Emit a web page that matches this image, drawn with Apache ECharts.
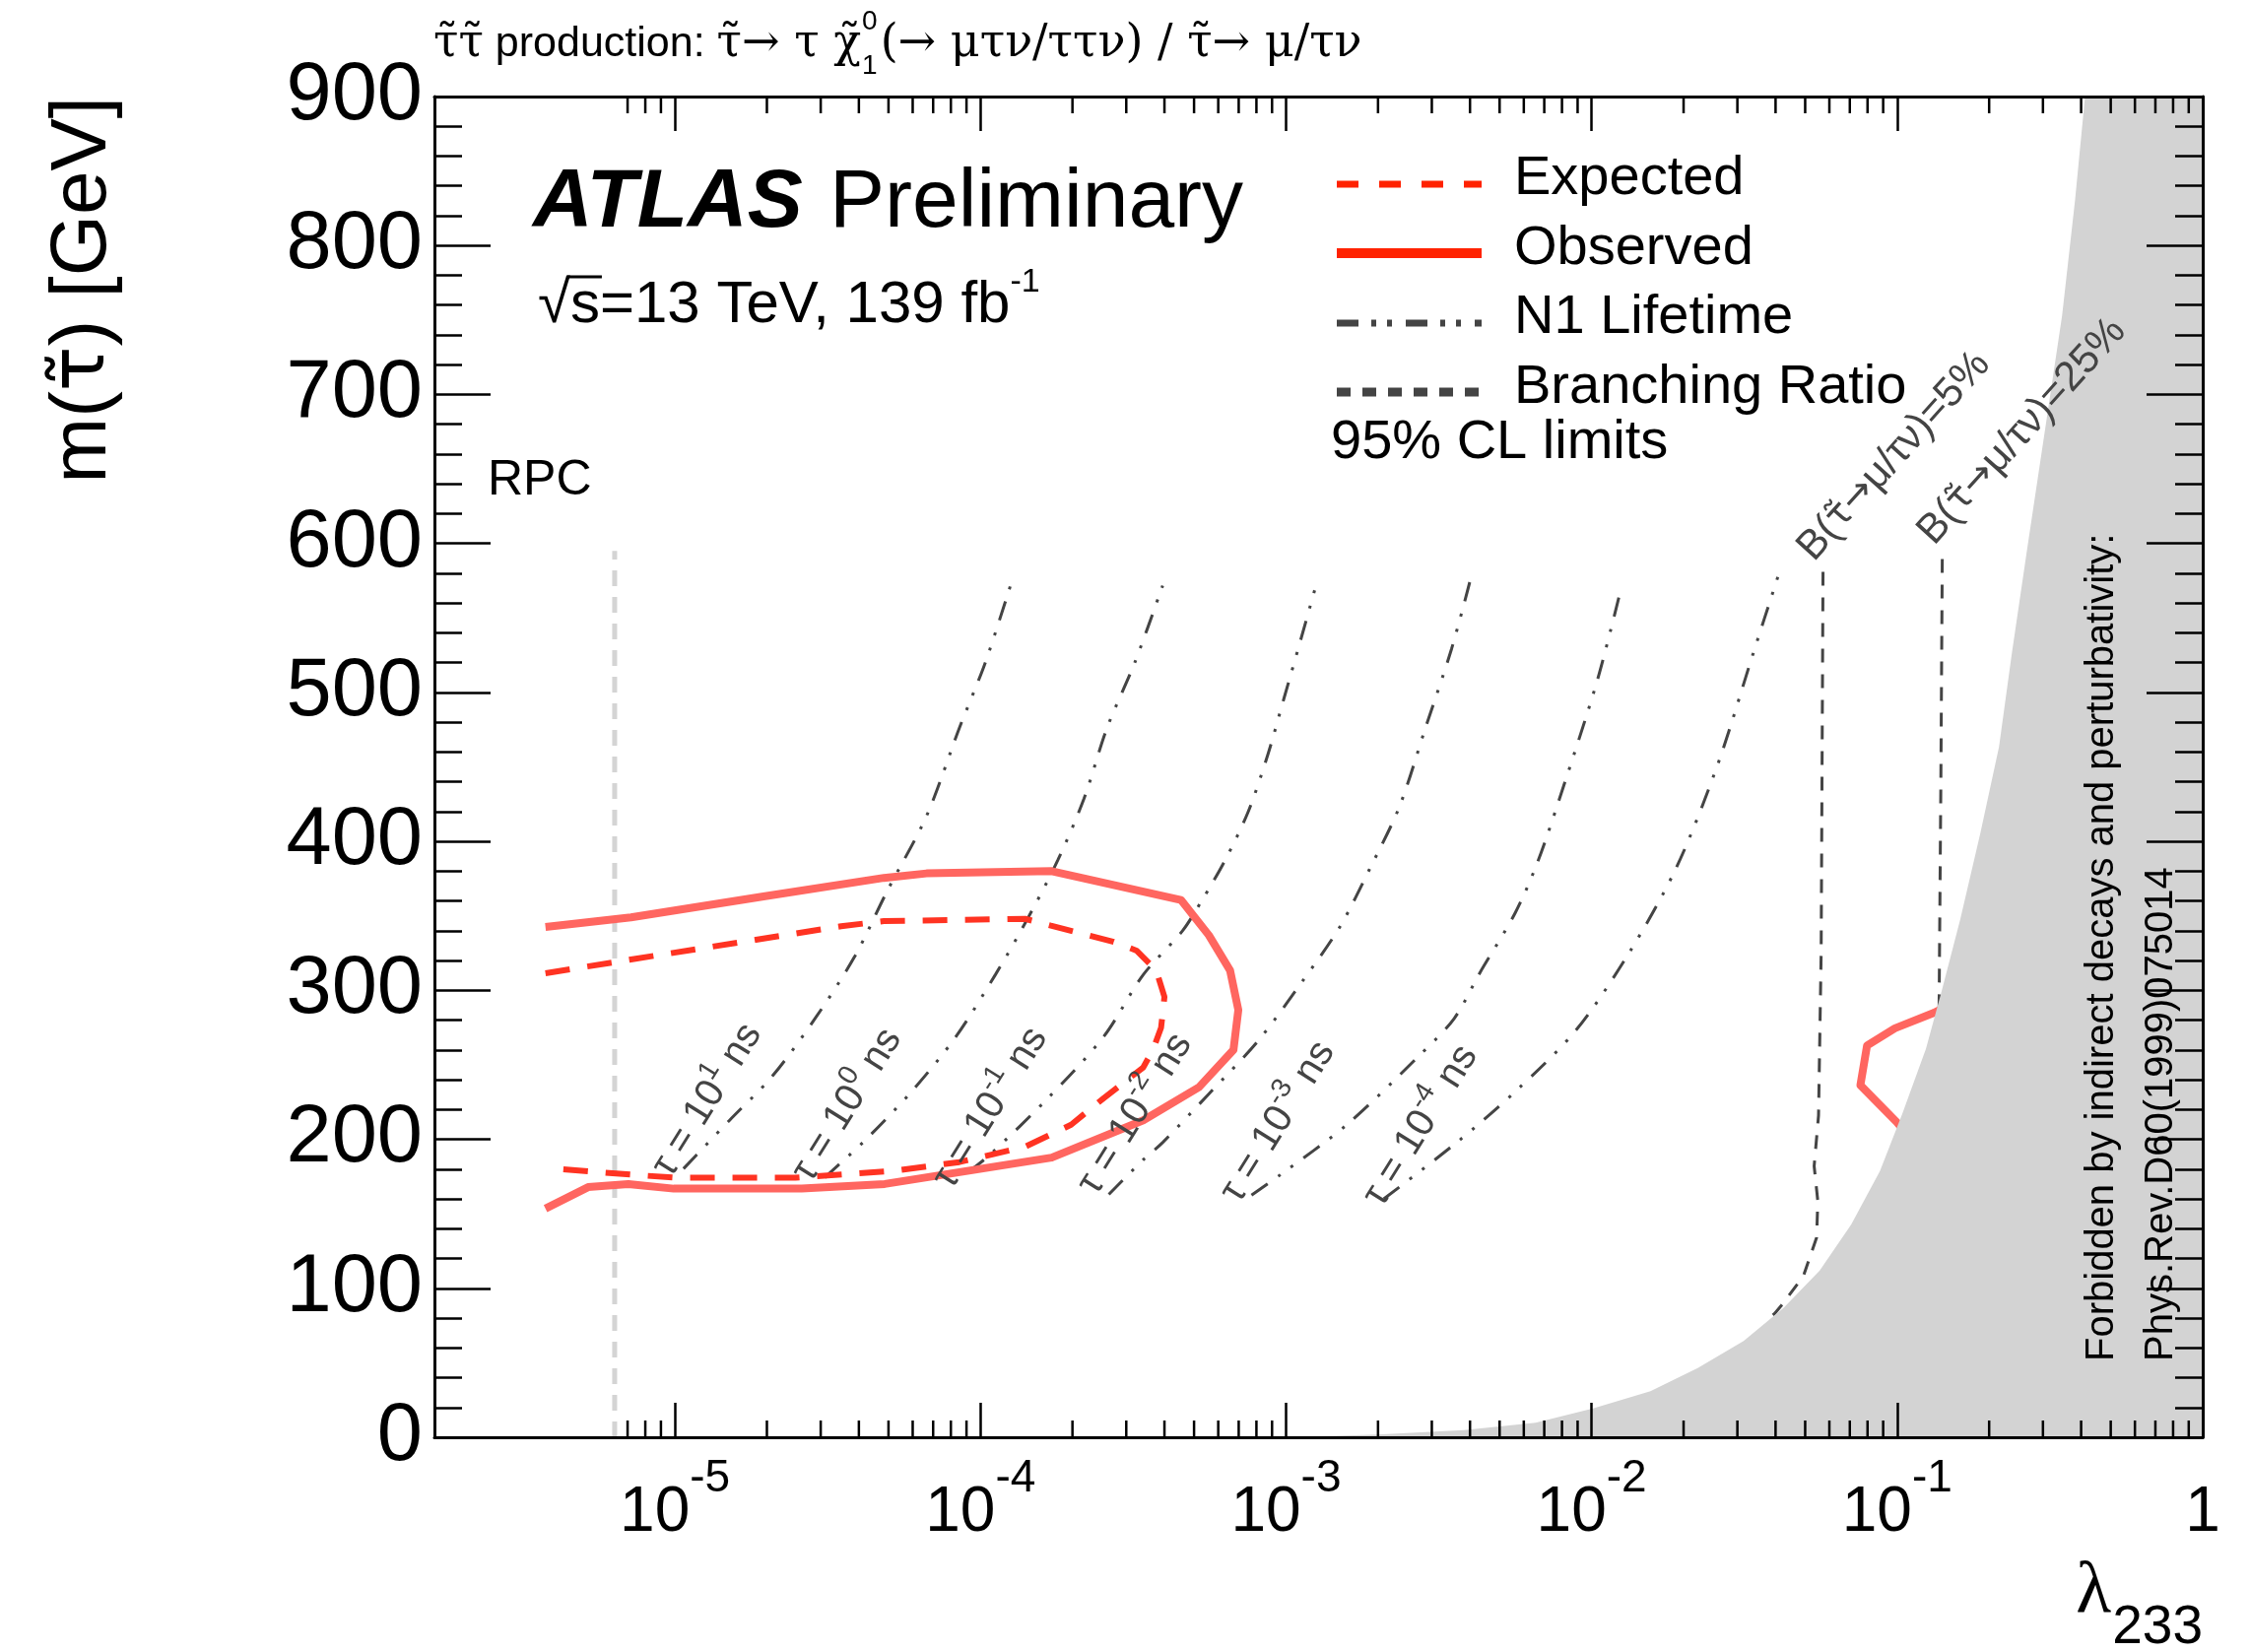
<!DOCTYPE html>
<html>
<head>
<meta charset="utf-8">
<script src="https://cdn.jsdelivr.net/npm/echarts@6/dist/echarts.min.js"></script>
<style>html,body{margin:0;padding:0;background:#fff}#chart{width:2284px;height:1677px}</style>
</head>
<body>
<div id="chart"></div>
<script>
// ---------------- data ----------------
const xMin = 1.633e-6, xMax = 1;
const yMin = 0, yMax = 900, yStep = 100;
const xMajorTicks = [1e-5, 1e-4, 1e-3, 1e-2, 1e-1, 1];
const xTickLabels = [['10', '-5'], ['10', '-4'], ['10', '-3'], ['10', '-2'], ['10', '-1'], ['1', '']];
const xMinorTicks = [7e-6, 8e-6, 9e-6,
  2e-5, 3e-5, 4e-5, 5e-5, 6e-5, 7e-5, 8e-5, 9e-5,
  2e-4, 3e-4, 4e-4, 5e-4, 6e-4, 7e-4, 8e-4, 9e-4,
  2e-3, 3e-3, 4e-3, 5e-3, 6e-3, 7e-3, 8e-3, 9e-3,
  2e-2, 3e-2, 4e-2, 5e-2, 6e-2, 7e-2, 8e-2, 9e-2,
  0.2, 0.3, 0.4, 0.5, 0.6, 0.7, 0.8, 0.9];

// Observed 95% CL contour
const obsLambda = [3.77e-6, 7.18e-6, 1.95e-5, 4.83e-5, 6.66e-5, 1.71e-4, 4.53e-4, 5.59e-4, 6.56e-4, 6.98e-4, 6.73e-4, 5.19e-4, 3.41e-4, 1.71e-4, 4.86e-5, 2.60e-5, 9.91e-6, 7.04e-6, 5.2e-6, 3.77e-6];
const obsMass   = [342.5, 349, 363, 375.5, 378.5, 380, 360.7, 337, 313.4, 286.8, 260.1, 235, 212.8, 187.7, 170, 166.9, 166.9, 170, 167.9, 153.5];
// Observed, small island at the edge of the forbidden region (ends hidden under it)
const obs2Lambda = [0.138, 0.1322, 0.0983, 0.0797, 0.0758, 0.0996, 0.106];
const obs2Mass   = [287, 285, 274.5, 262.9, 236.3, 211.6, 205];
// Expected 95% CL contour
const expLambda = [3.77e-6, 7.18e-6, 1.84e-5, 3.5e-5, 4.83e-5, 1.40e-4, 1.70e-4, 2.73e-4, 3.24e-4, 3.76e-4, 4.0e-4, 3.90e-4, 3.67e-4, 3.41e-4, 2.53e-4, 1.98e-4, 1.40e-4, 8.53e-5, 5.2e-5, 2.48e-5, 9.91e-6, 7.74e-6, 4.14e-6];
const expMass   = [311.5, 320.7, 334, 343, 346.5, 348, 343.5, 332.6, 326.7, 313.4, 295.6, 274.9, 260.1, 248.3, 227.6, 209.8, 195, 184.7, 178.8, 174.3, 174.3, 175.8, 180.1];

// N1 lifetime lines
const lifeP1Lambda = [1.067e-5, 1.51e-5, 2.082e-5, 2.871e-5, 3.866e-5, 4.95e-5, 6.656e-5, 8.53e-5, 1.039e-4, 1.282e-4];
const lifeP1Mass   = [180.3, 212.8, 242.3, 280.9, 322.3, 366.6, 416.9, 476.1, 520.5, 578.1];
const life0Lambda  = [3.093e-5, 4.267e-5, 6.034e-5, 8.318e-5, 1.118e-4, 1.433e-4, 1.791e-4, 2.183e-4, 2.595e-4, 3.199e-4, 3.947e-4];
const life0Mass    = [174.4, 200.9, 233.5, 269, 310.4, 348.9, 387.4, 428.8, 476.1, 520, 571.7];
const lifeM1Lambda = [9.12e-5, 1.066e-4, 1.662e-4, 2.532e-4, 3.407e-4, 4.585e-4, 5.317e-4, 6.32e-4, 7.52e-4, 8.72e-4, 9.87e-4, 1.117e-3, 1.265e-3];
const lifeM1Mass   = [178, 189.1, 227.6, 269, 310.4, 340, 360.7, 387.4, 419.9, 458.3, 496.8, 535.3, 574.8];
const lifeM2Lambda = [2.63e-4, 3.407e-4, 3.952e-4, 5.59e-4, 8.1e-4, 1.117e-3, 1.503e-3, 1.877e-3, 2.346e-3, 2.859e-3, 3.483e-3, 4.04e-3];
const lifeM2Mass   = [163, 186.2, 198, 230.5, 266.1, 304.5, 342.9, 381.4, 422.9, 476.1, 529.4, 578.1];
const lifeM3Lambda = [7.71e-4, 9.55e-4, 1.585e-3, 2.723e-3, 3.548e-3, 4.315e-3, 5.623e-3, 6.683e-3, 8.185e-3, 1.047e-2, 1.253e-2];
const lifeM3Mass   = [162.5, 176, 210, 256, 281, 312, 352, 387, 440, 509, 571];
const lifeM4Lambda = [2.089e-3, 3.659e-3, 5.706e-3, 8.903e-3, 1.328e-2, 1.897e-2, 2.588e-2, 3.382e-2, 4.094e-2];
const lifeM4Mass   = [160, 198.7, 233.2, 273.4, 325.3, 382.7, 451.7, 526.4, 579.2];
const lifeLabelExp    = ['1', '0', '-1', '-2', '-3', '-4'];
const lifeLabelLambda = [1.026e-5, 2.944e-5, 8.51e-5, 2.53e-4, 7.43e-4, 2.178e-3];
const lifeLabelMass   = [170.3, 167, 162.4, 158.4, 153.1, 150.4];

// Branching-ratio lines
const br5Lambda  = [0.0572, 0.0564, 0.0553, 0.0535, 0.055, 0.0545, 0.0493, 0.0418, 0.0397, 0.037];
const br5Mass    = [581, 325, 216, 182, 158.5, 134, 108, 88.5, 83, 78];
const br25Lambda = [0.1405, 0.139, 0.1372, 0.1368];
const br25Mass   = [589.6, 440, 292, 280];
const brLabelValue  = ['5%', '25%'];
const brLabelLambda = [0.0562, 0.1392];
const brLabelMass   = [583, 594];

// RPC reference line
const rpcLambda = [6.35e-6, 6.35e-6];
const rpcMass   = [0, 595];

// Forbidden region boundary
const forbLambda = [1.0e-3, 2.0e-3, 3.82e-3, 6.56e-3, 1.011e-2, 1.558e-2, 2.225e-2, 3.146e-2, 4.256e-2, 5.58e-2, 7.075e-2, 8.785e-2, 0.1040, 0.1242, 0.1398, 0.1609, 0.1872, 0.2155, 0.2374, 0.2674, 0.3046, 0.3467, 0.3822, 0.412, 1];
const forbMass   = [0, 1.9, 4.8, 9.7, 19.3, 30.9, 46.4, 64.7, 86.9, 112, 142.9, 178.7, 217.3, 260.7, 299.4, 347.7, 405.6, 463.5, 526.3, 598.7, 676, 753.2, 830.5, 900, 900];

// ---------------- helpers ----------------
const FONT = 'Liberation Sans';
const GSERIF = 'DejaVu Serif';
const GSANS = 'DejaVu Sans';
const zip = (a, b) => a.map((v, i) => [v, b[i]]);
const cv = document.createElement('canvas').getContext('2d');
const measure = (t, f) => { cv.font = f; return cv.measureText(t).width; };

const LIFE_COLOR = '#444444';
const lifeDash = [20, 13, 3, 13, 3, 13];
function lifeSeries(lam, mass) {
  return { type: 'line', data: zip(lam, mass), showSymbol: false, symbol: 'none', smooth: 0.3, z: 3,
    lineStyle: { color: LIFE_COLOR, width: 3, type: lifeDash }, silent: true };
}

// title pieces
const titleY = 45, tSerif = 46, tSans = 43;
const fSerif = tSerif + 'px "' + GSERIF + '"', fSans = tSans + 'px "' + FONT + '"';
const tA1 = 'τ̃τ̃', tA2 = '\u00a0production:\u00a0', tA3 = 'τ̃→ τ χ̃';
const wA = measure(tA1, fSerif) + measure(tA2, fSans) + measure(tA3, fSerif);
const wSup = measure('0', '28px "' + FONT + '"');
const w233 = measure('233', '55px "' + FONT + '"');
const wRoot = measure('√', '60px "' + FONT + '"');
const wS = measure('s', '60px "' + FONT + '"');

const chart = echarts.init(document.getElementById('chart'), null, { renderer: 'canvas' });

const axisLineStyle = { color: '#000', width: 3 };
const tickStyle = { color: '#000', width: 2.5 };

const option = {
  animation: false,
  backgroundColor: '#ffffff',
  grid: { left: 441, right: 48, top: 98, bottom: 218, containLabel: false },
  xAxis: [
    { type: 'log', logBase: 10, min: xMin, max: xMax, position: 'bottom', z: 10,
      axisLine: { show: true, onZero: false, lineStyle: axisLineStyle },
      axisTick: { show: true, inside: true, length: 35, lineStyle: tickStyle },
      splitLine: { show: false },
      axisLabel: { show: true, margin: 19, showMinLabel: false,
        formatter: function (v) {
          const e = Math.round(Math.log10(v));
          let idx = -1;
          xMajorTicks.forEach((t, i) => { if (Math.round(Math.log10(t)) === e) idx = i; });
          if (idx < 0) return '';
          const lab = xTickLabels[idx];
          return lab[1] ? '{b|' + lab[0] + '}{e|' + lab[1] + '}' : '{b|' + lab[0] + '}';
        },
        rich: {
          b: { fontSize: 64, fontFamily: FONT, color: '#000', lineHeight: 90, verticalAlign: 'bottom' },
          e: { fontSize: 46, fontFamily: FONT, color: '#000', lineHeight: 44, verticalAlign: 'top' }
        } } },
    { type: 'log', logBase: 10, min: xMin, max: xMax, position: 'top', z: 10,
      axisLine: { show: true, onZero: false, lineStyle: axisLineStyle },
      axisTick: { show: true, inside: true, length: 35, lineStyle: tickStyle },
      splitLine: { show: false }, axisLabel: { show: false } }
  ],
  yAxis: [
    { type: 'value', min: yMin, max: yMax, interval: yStep, position: 'left', z: 10,
      axisLine: { show: true, onZero: false, lineStyle: axisLineStyle },
      axisTick: { show: true, inside: true, length: 57, lineStyle: tickStyle },
      minorTick: { show: true, splitNumber: 5, length: 28, lineStyle: tickStyle },
      splitLine: { show: false },
      axisLabel: { show: true, margin: 12, fontSize: 83, fontFamily: FONT, color: '#000' } },
    { type: 'value', min: yMin, max: yMax, interval: yStep, position: 'right', z: 10,
      axisLine: { show: true, onZero: false, lineStyle: axisLineStyle },
      axisTick: { show: true, inside: true, length: 57, lineStyle: tickStyle },
      minorTick: { show: true, splitNumber: 5, length: 28, lineStyle: tickStyle },
      splitLine: { show: false }, axisLabel: { show: false } }
  ],
  series: [
    // RPC line
    { type: 'line', name: 'RPC', data: zip(rpcLambda, rpcMass), showSymbol: false, symbol: 'none', z: 2, silent: true,
      lineStyle: { color: '#d4d4d4', width: 5, type: [16, 11] } },
    lifeSeries(lifeP1Lambda, lifeP1Mass),
    lifeSeries(life0Lambda, life0Mass),
    lifeSeries(lifeM1Lambda, lifeM1Mass),
    lifeSeries(lifeM2Lambda, lifeM2Mass),
    lifeSeries(lifeM3Lambda, lifeM3Mass),
    lifeSeries(lifeM4Lambda, lifeM4Mass),
    { type: 'line', name: 'BR5', data: zip(br5Lambda, br5Mass), showSymbol: false, symbol: 'none', z: 3, silent: true,
      lineStyle: { color: LIFE_COLOR, width: 3, type: [14, 12] } },
    { type: 'line', name: 'BR25', data: zip(br25Lambda, br25Mass), showSymbol: false, symbol: 'none', z: 3, silent: true,
      lineStyle: { color: LIFE_COLOR, width: 3, type: [14, 12] } },
    // contours
    { type: 'line', name: 'Observed', data: zip(obsLambda, obsMass), showSymbol: false, symbol: 'none', z: 4, silent: true,
      lineStyle: { color: '#ff6660', width: 8, join: 'round' } },
    { type: 'line', name: 'Observed2', data: zip(obs2Lambda, obs2Mass), showSymbol: false, symbol: 'none', z: 4, silent: true,
      lineStyle: { color: '#ff6660', width: 8, join: 'round' } },
    { type: 'line', name: 'Expected', data: zip(expLambda, expMass), showSymbol: false, symbol: 'none', z: 4, silent: true,
      lineStyle: { color: '#ff3322', width: 6, type: [25, 18] } },
    // forbidden region (drawn over the curves)
    { type: 'line', name: 'Forbidden', data: zip(forbLambda, forbMass), showSymbol: false, symbol: 'none',
      smooth: false, z: 5, silent: true,
      lineStyle: { width: 0, opacity: 0 }, areaStyle: { color: '#d3d3d3', opacity: 1 } },
    // lifetime labels
    { type: 'custom', name: 'lifeLabels', z: 6, silent: true,
      data: zip(lifeLabelLambda, lifeLabelMass),
      renderItem: function (params, api) {
        const p = api.coord([api.value(0), api.value(1)]);
        const e = lifeLabelExp[params.dataIndex];
        return { type: 'text', x: p[0], y: p[1], rotation: 58 * Math.PI / 180,
          style: { text: '{t|τ = 10}{s|' + e + '}{t| ns}', align: 'left', verticalAlign: 'bottom', fill: LIFE_COLOR,
            rich: {
              t: { fontSize: 40, fontFamily: FONT, fill: LIFE_COLOR, color: LIFE_COLOR, lineHeight: 48, verticalAlign: 'bottom' },
              s: { fontSize: 28, fontFamily: FONT, fill: LIFE_COLOR, color: LIFE_COLOR, lineHeight: 28, verticalAlign: 'top' }
            } } };
      } },
    // BR labels
    { type: 'custom', name: 'brLabels', z: 6, silent: true,
      data: zip(brLabelLambda, brLabelMass),
      renderItem: function (params, api) {
        const p = api.coord([api.value(0), api.value(1)]);
        return { type: 'text', x: p[0], y: p[1], rotation: 48 * Math.PI / 180,
          style: { text: '{a|B(}{t|τ̃→}{a|μ/τν)=' + brLabelValue[params.dataIndex] + '}', align: 'left', verticalAlign: 'bottom', fill: LIFE_COLOR,
            rich: {
              a: { fontSize: 42, fontFamily: FONT, fill: LIFE_COLOR, color: LIFE_COLOR },
              t: { fontSize: 38, fontFamily: GSANS, fill: LIFE_COLOR, color: LIFE_COLOR }
            } } };
      } },
    // minor ticks of the log axis (bottom and top)
    { type: 'custom', name: 'xMinor', z: 11, silent: true,
      data: xMinorTicks.map(v => [v, 0]),
      renderItem: function (params, api) {
        const x = api.coord([api.value(0), 0])[0];
        const cs = params.coordSys;
        return { type: 'group', children: [
          { type: 'line', shape: { x1: x, y1: cs.y + cs.height, x2: x, y2: cs.y + cs.height - 17 }, style: { stroke: '#000', lineWidth: 2.5 } },
          { type: 'line', shape: { x1: x, y1: cs.y, x2: x, y2: cs.y + 17 }, style: { stroke: '#000', lineWidth: 2.5 } }
        ] };
      } }
  ],
  graphic: [
    // top title
    { type: 'text', x: 440, y: titleY, z: 20, style: { text: '{g|' + tA1 + '}{s|' + tA2 + '}{g|' + tA3 + '}', verticalAlign: 'middle', align: 'left',
      rich: { g: { fontSize: tSerif, fontFamily: GSERIF, fill: '#000', color: '#000' }, s: { fontSize: tSans, fontFamily: FONT, fill: '#000', color: '#000' } } } },
    { type: 'text', x: 440 + wA + 1, y: 22, z: 20, style: { text: '0', fontSize: 28, fontFamily: FONT, fill: '#000', verticalAlign: 'middle' } },
    { type: 'text', x: 440 + wA + 1, y: 67, z: 20, style: { text: '1', fontSize: 28, fontFamily: FONT, fill: '#000', verticalAlign: 'middle' } },
    { type: 'text', x: 440 + wA + wSup + 4, y: titleY, z: 20, style: { text: '(→ μτν/ττν) / τ̃→ μ/τν', fontSize: tSerif, fontFamily: GSERIF, fill: '#000', verticalAlign: 'middle' } },
    // y-axis title
    { type: 'text', x: 85, y: 98, rotation: Math.PI / 2, z: 20, style: { text: '{a|m(}{t|τ̃}{a|) [GeV]}', align: 'right', verticalAlign: 'middle',
      rich: { a: { fontSize: 80, fontFamily: FONT, fill: '#000', color: '#000' }, t: { fontSize: 76, fontFamily: GSANS, fill: '#000', color: '#000' } } } },
    // x-axis title
    { type: 'text', x: 2236, y: 1653, z: 20, style: { text: '233', fontSize: 55, fontFamily: FONT, fill: '#000', align: 'right', verticalAlign: 'middle' } },
    { type: 'text', x: 2236 - w233 - 1, y: 1617, z: 20, style: { text: 'λ', fontSize: 74, fontFamily: 'Liberation Serif', fill: '#000', align: 'right', verticalAlign: 'middle' } },
    // ATLAS label
    { type: 'text', x: 541, y: 207, z: 20, style: { text: 'ATLAS', fontSize: 84, fontFamily: FONT, fontWeight: 'bold', fontStyle: 'italic', fill: '#000', verticalAlign: 'middle' } },
    { type: 'text', x: 842, y: 207, z: 20, style: { text: 'Preliminary', fontSize: 84, fontFamily: FONT, fill: '#000', verticalAlign: 'middle' } },
    { type: 'text', x: 546, y: 305, z: 20, style: { text: '{n|√s=13 TeV, 139 fb}{p|-1}', verticalAlign: 'middle',
      rich: { n: { fontSize: 60, fontFamily: FONT, fill: '#000', color: '#000', lineHeight: 70, verticalAlign: 'bottom' },
              p: { fontSize: 34, fontFamily: FONT, fill: '#000', color: '#000', lineHeight: 36, verticalAlign: 'top' } } } },
    { type: 'line', z: 20, shape: { x1: 546 + wRoot - 3, y1: 281, x2: 546 + wRoot + wS + 2, y2: 281 }, style: { stroke: '#000', lineWidth: 3 } },
    // RPC
    { type: 'text', x: 495, y: 488, z: 20, style: { text: 'RPC', fontSize: 50, fontFamily: FONT, fill: '#000', verticalAlign: 'middle' } },
    // legend
    { type: 'line', z: 20, shape: { x1: 1357, y1: 187, x2: 1504, y2: 187 }, style: { stroke: '#ff2200', lineWidth: 7, lineDash: [22, 21] } },
    { type: 'line', z: 20, shape: { x1: 1357, y1: 257, x2: 1504, y2: 257 }, style: { stroke: '#ff2200', lineWidth: 10 } },
    { type: 'line', z: 20, shape: { x1: 1357, y1: 328, x2: 1504, y2: 328 }, style: { stroke: LIFE_COLOR, lineWidth: 7, lineDash: [22, 13, 5, 11, 5, 14] } },
    { type: 'line', z: 20, shape: { x1: 1357, y1: 398, x2: 1504, y2: 398 }, style: { stroke: LIFE_COLOR, lineWidth: 9, lineDash: [14, 12] } },
    { type: 'text', x: 1537, y: 182, z: 20, style: { text: 'Expected', fontSize: 56, fontFamily: FONT, fill: '#000', verticalAlign: 'middle' } },
    { type: 'text', x: 1537, y: 253, z: 20, style: { text: 'Observed', fontSize: 56, fontFamily: FONT, fill: '#000', verticalAlign: 'middle' } },
    { type: 'text', x: 1537, y: 323, z: 20, style: { text: 'N1 Lifetime', fontSize: 56, fontFamily: FONT, fill: '#000', verticalAlign: 'middle' } },
    { type: 'text', x: 1537, y: 394, z: 20, style: { text: 'Branching Ratio', fontSize: 56, fontFamily: FONT, fill: '#000', verticalAlign: 'middle' } },
    { type: 'text', x: 1351, y: 450, z: 20, style: { text: '95% CL limits', fontSize: 56, fontFamily: FONT, fill: '#000', verticalAlign: 'middle' } },
    // forbidden region text
    { type: 'text', x: 2134, y: 1382, rotation: Math.PI / 2, z: 20, style: { text: 'Forbidden by indirect decays and perturbativity:', fontSize: 40, fontFamily: FONT, fill: '#000', align: 'left', verticalAlign: 'middle' } },
    { type: 'text', x: 2194, y: 1382, rotation: Math.PI / 2, z: 20, style: { text: 'Phys.Rev.D60(1999)075014', fontSize: 40, fontFamily: FONT, fill: '#000', align: 'left', verticalAlign: 'middle' } }
  ]
};
chart.setOption(option);
</script>
</body>
</html>
